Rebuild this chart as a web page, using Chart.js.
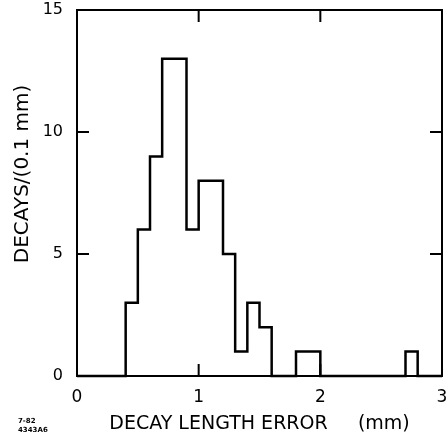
<!DOCTYPE html>
<html>
<head>
<meta charset="utf-8">
<script src="https://cdn.jsdelivr.net/npm/chart.js@4.4.1/dist/chart.umd.min.js"></script>
<style>
  html, body { margin: 0; padding: 0; background: #fff; }
  #wrap { width: 446px; height: 438px; position: relative; }
</style>
</head>
<body>
<div id="wrap"><canvas id="histo"></canvas></div>
<script>
// bin edges (mm) and counts per 0.1 mm bin
const binEdges = [0.0, 0.1, 0.2, 0.3, 0.4, 0.5, 0.6, 0.7, 0.8, 0.9,
                  1.0, 1.1, 1.2, 1.3, 1.4, 1.5, 1.6, 1.7, 1.8, 1.9,
                  2.0, 2.1, 2.2, 2.3, 2.4, 2.5, 2.6, 2.7, 2.8, 2.9, 3.0];
const decayCounts = [0, 0, 0, 0, 3, 6, 9, 13, 13, 6,
                     8, 8, 5, 1, 3, 2, 0, 0, 1, 1,
                     0, 0, 0, 0, 0, 0, 0, 1, 0, 0];
const xTickValues = [0, 1, 2, 3];
const yTickValues = [0, 5, 10, 15];
const xTitle = "DECAY LENGTH ERROR     (mm)";
const yTitle = "DECAYS/(0.1 mm)";
const plateCode = ["7-82", "4343A6"];

const FONT = "'DejaVu Sans', 'Liberation Sans', sans-serif";

function histogramPoints(edges, counts) {
  const pts = [];
  for (let i = 0; i < counts.length; i++) {
    pts.push({ x: edges[i], y: counts[i] });
  }
  pts.push({ x: edges[edges.length - 1], y: 0 });
  return pts;
}

// box frame + inward ticks on all four sides
const frameTicks = {
  id: "frameTicks",
  afterDraw(chart) {
    const { ctx, chartArea: a, scales } = chart;
    const len = 12;
    ctx.save();
    ctx.strokeStyle = "#000";
    ctx.lineWidth = 2;
    ctx.strokeRect(a.left, a.top, a.right - a.left, a.bottom - a.top);
    ctx.beginPath();
    xTickValues.forEach((v) => {
      const px = scales.x.getPixelForValue(v);
      ctx.moveTo(px, a.bottom);
      ctx.lineTo(px, a.bottom - len);
      ctx.moveTo(px, a.top);
      ctx.lineTo(px, a.top + len);
    });
    yTickValues.forEach((v) => {
      const py = scales.y.getPixelForValue(v);
      ctx.moveTo(a.left, py);
      ctx.lineTo(a.left + len, py);
      ctx.moveTo(a.right, py);
      ctx.lineTo(a.right - len, py);
    });
    ctx.stroke();

    ctx.fillStyle = "#000";
    ctx.font = "bold 7px " + FONT;
    ctx.textBaseline = "middle";
    ctx.fillText(plateCode[0], 18, 421);
    ctx.fillText(plateCode[1], 18, 430);
    ctx.restore();
  },
};

const ctx = document.getElementById("histo").getContext("2d");

const chart = new Chart(ctx, {
  type: "line",
  data: {
    datasets: [
      {
        data: histogramPoints(binEdges, decayCounts),
        stepped: "before",
        borderColor: "#000",
        borderWidth: 2.5,
        pointRadius: 0,
        fill: false,
        clip: 4,
      },
    ],
  },
  options: {
    responsive: true,
    maintainAspectRatio: false,
    animation: false,
    layout: { padding: { top: 10, right: 4, left: 0, bottom: 0 } },
    plugins: {
      legend: { display: false },
      tooltip: { enabled: false },
    },
    scales: {
      x: {
        type: "linear",
        min: 0,
        max: 3,
        grid: { display: false, drawTicks: false },
        border: { display: false },
        ticks: {
          stepSize: 1,
          color: "#000",
          padding: 11,
          maxRotation: 0,
          font: { family: FONT, size: 17 },
        },
        title: {
          display: true,
          text: xTitle,
          color: "#000",
          font: { family: FONT, size: 19 },
          padding: { top: 0, bottom: 3 },
        },
        afterFit(scale) {
          scale.height = 62;
          scale.paddingLeft = 0;
          scale.paddingRight = 0;
        },
      },
      y: {
        min: 0,
        max: 15,
        grid: { display: false, drawTicks: false },
        border: { display: false },
        ticks: {
          stepSize: 5,
          color: "#000",
          padding: 14,
          font: { family: FONT, size: 16 },
        },
        title: {
          display: true,
          text: "      " + yTitle,
          color: "#000",
          font: { family: FONT, size: 20 },
          padding: { top: 11, bottom: 0 },
        },
        afterFit(scale) {
          scale.width = 77;
          scale.paddingTop = 0;
          scale.paddingBottom = 0;
        },
      },
    },
  },
  plugins: [frameTicks],
});
</script>
</body>
</html>
